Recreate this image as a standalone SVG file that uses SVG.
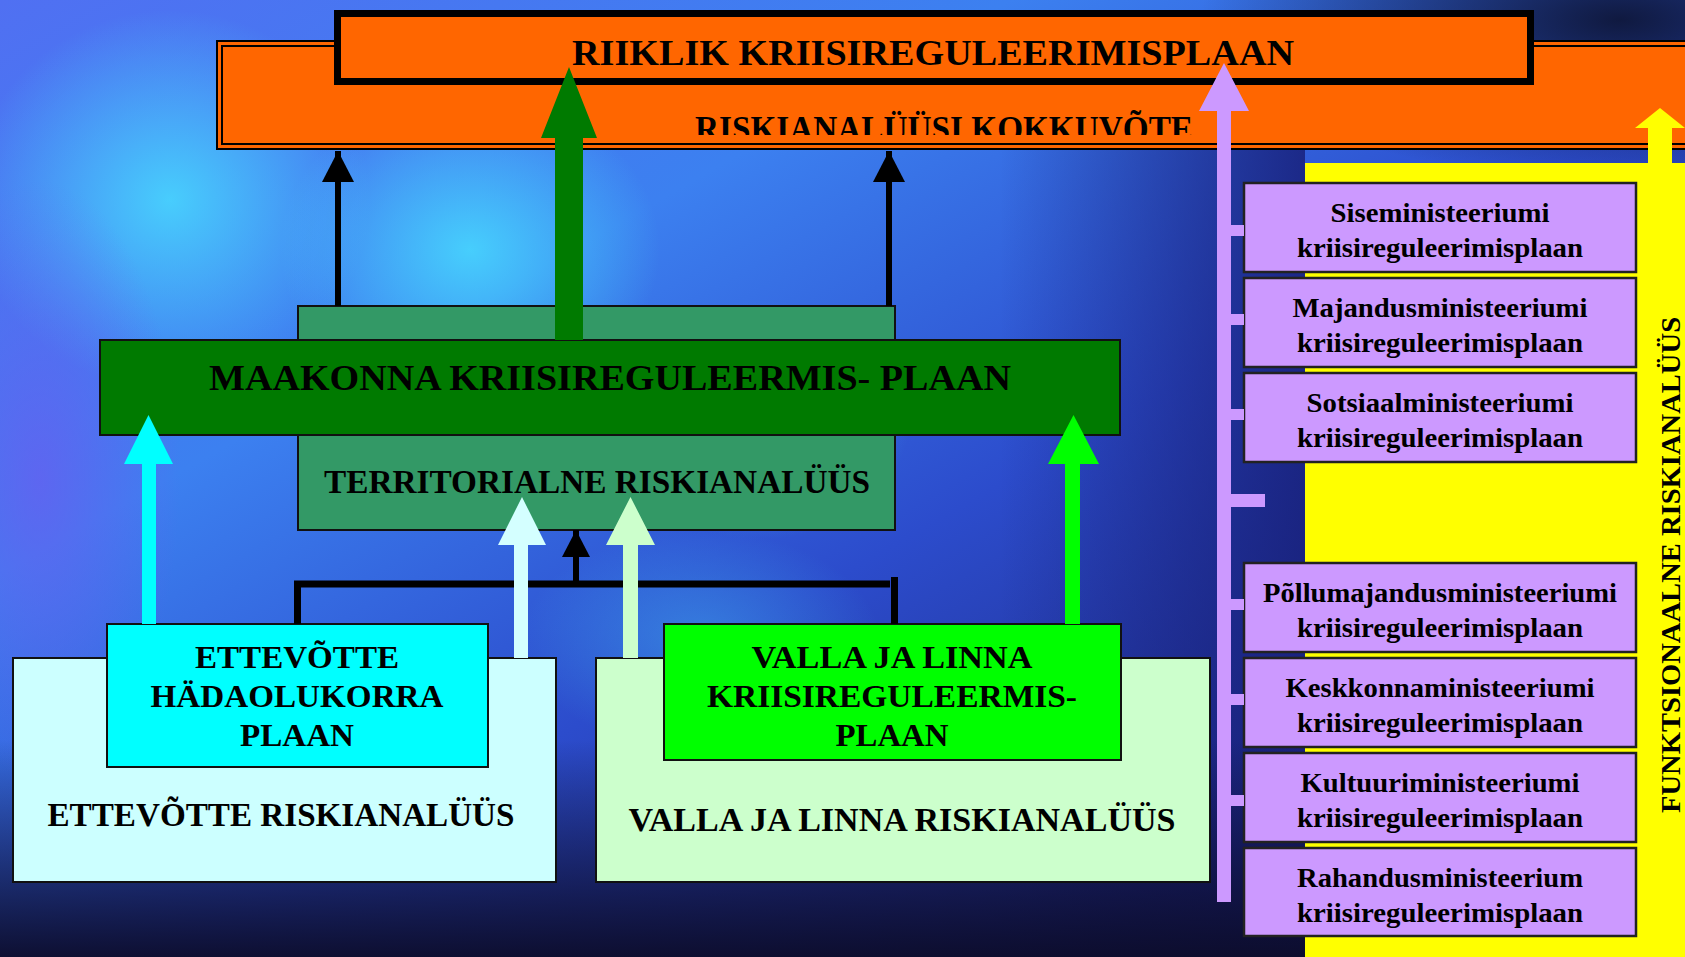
<svg xmlns="http://www.w3.org/2000/svg" width="1685" height="957" viewBox="0 0 1685 957">
<defs>
<linearGradient id="bg" x1="0" y1="0" x2="1" y2="1">
<stop offset="0" stop-color="#5070f2"/>
<stop offset="0.3" stop-color="#3c80f0"/>
<stop offset="0.55" stop-color="#2c4ccc"/>
<stop offset="0.8" stop-color="#1e2a88"/>
<stop offset="1" stop-color="#121440"/>
</linearGradient>
<radialGradient id="hl" cx="0.5" cy="0.5" r="0.5">
<stop offset="0" stop-color="#48dcff" stop-opacity="0.85"/>
<stop offset="1" stop-color="#48dcff" stop-opacity="0"/>
</radialGradient>
<radialGradient id="dk" cx="0.5" cy="0.5" r="0.5">
<stop offset="0" stop-color="#0e1638" stop-opacity="0.95"/>
<stop offset="1" stop-color="#0e1638" stop-opacity="0"/>
</radialGradient>
<radialGradient id="vi" cx="0.5" cy="0.5" r="0.5">
<stop offset="0" stop-color="#6a5cf0" stop-opacity="0.7"/>
<stop offset="1" stop-color="#6a5cf0" stop-opacity="0"/>
</radialGradient>
<linearGradient id="bot" x1="0" y1="0" x2="0" y2="1">
<stop offset="0" stop-color="#0c0c2a" stop-opacity="0"/>
<stop offset="1" stop-color="#0c0c2a" stop-opacity="0.95"/>
</linearGradient>
<linearGradient id="rs" x1="0" y1="0" x2="1" y2="0">
<stop offset="0" stop-color="#18207a" stop-opacity="0"/>
<stop offset="1" stop-color="#18207a" stop-opacity="0.85"/>
</linearGradient>
<clipPath id="clipK"><rect x="200" y="90" width="1100" height="45"/></clipPath>
<marker id="ah" markerUnits="userSpaceOnUse" markerWidth="32" markerHeight="32" refX="31" refY="16" orient="auto">
<path d="M0,0 L31,16 L0,32 Z" fill="#000"/>
</marker>
<marker id="ahs" markerUnits="userSpaceOnUse" markerWidth="28" markerHeight="28" refX="27" refY="14" orient="auto">
<path d="M0,0 L27,14 L0,28 Z" fill="#000"/>
</marker>
</defs>
<style>
text{font-family:"Liberation Serif","Times New Roman",serif;font-weight:bold;fill:#000;}
.box{stroke:#111;stroke-width:2;}
.big{font-size:36px;}
.mid{font-size:33px;}
.sm{font-size:32px;}
.min{font-size:27px;}
.minbox{fill:#cc99ff;stroke:#222;stroke-width:2.5;}
.stub{fill:#cc99ff;}
</style>

<!-- background -->
<rect x="0" y="0" width="1685" height="957" fill="url(#bg)"/>
<ellipse cx="170" cy="200" rx="200" ry="190" fill="url(#hl)"/>
<ellipse cx="470" cy="250" rx="190" ry="160" fill="url(#hl)"/>
<ellipse cx="760" cy="420" rx="150" ry="120" fill="url(#hl)" opacity="0.5"/>
<ellipse cx="700" cy="640" rx="180" ry="110" fill="url(#hl)" opacity="0.4"/>
<ellipse cx="40" cy="480" rx="140" ry="300" fill="url(#vi)"/>
<ellipse cx="1620" cy="20" rx="420" ry="160" fill="url(#dk)"/>
<rect x="1000" y="150" width="305" height="807" fill="url(#rs)"/>
<rect x="0" y="740" width="1685" height="217" fill="url(#bot)"/>

<!-- yellow panel -->
<g id="funktsionaalne">
<rect x="1305" y="163" width="380" height="794" fill="#ffff00"/>
<text transform="translate(1680,565) rotate(-90)" text-anchor="middle" font-size="28" textLength="496" lengthAdjust="spacingAndGlyphs">FUNKTSIONAALNE RISKIANALÜÜS</text>
</g>

<!-- orange boxes -->
<g id="kokkuvote">
<rect x="217" y="41" width="1480" height="108" fill="#ff6600" stroke="#000" stroke-width="2"/>
<rect x="222" y="46" width="1470" height="98" fill="none" stroke="#000" stroke-width="2"/>
<text class="big" x="944" y="141" text-anchor="middle" font-size="34" textLength="498" lengthAdjust="spacingAndGlyphs" clip-path="url(#clipK)">RISKIANALÜÜSI KOKKUVÕTE</text>
</g>
<g id="riiklik">
<rect x="337.5" y="13.5" width="1193" height="68" fill="#ff6600" stroke="#000" stroke-width="7"/>
<text class="big" x="933" y="65" text-anchor="middle" textLength="722" lengthAdjust="spacingAndGlyphs">RIIKLIK KRIISIREGULEERIMISPLAAN</text>
</g>

<!-- county -->
<g id="territorialne">
<rect class="box" x="298" y="306" width="597" height="224" fill="#339966"/>
<text class="mid" x="597" y="493" text-anchor="middle" textLength="546" lengthAdjust="spacingAndGlyphs">TERRITORIALNE RISKIANALÜÜS</text>
</g>
<g id="maakonna">
<rect class="box" x="100" y="340" width="1020" height="95" fill="#007a00"/>
<text class="big" x="610" y="390" text-anchor="middle" textLength="802" lengthAdjust="spacingAndGlyphs">MAAKONNA KRIISIREGULEERMIS- PLAAN</text>
</g>

<!-- bottom boxes -->
<g id="ettevotte-risk">
<rect class="box" x="13" y="658" width="543" height="224" fill="#ccffff"/>
<text class="mid" x="281" y="826" text-anchor="middle" textLength="467" lengthAdjust="spacingAndGlyphs">ETTEVÕTTE RISKIANALÜÜS</text>
</g>
<g id="ettevotte-plaan">
<rect class="box" x="107" y="624" width="381" height="143" fill="#00ffff"/>
<text class="sm" x="297" y="668" text-anchor="middle" textLength="204" lengthAdjust="spacingAndGlyphs">ETTEVÕTTE</text>
<text class="sm" x="297" y="707" text-anchor="middle" textLength="293" lengthAdjust="spacingAndGlyphs">HÄDAOLUKORRA</text>
<text class="sm" x="297" y="746" text-anchor="middle" textLength="114" lengthAdjust="spacingAndGlyphs">PLAAN</text>
</g>
<g id="valla-risk">
<rect class="box" x="596" y="658" width="614" height="224" fill="#ccffcc"/>
<text class="mid" x="902" y="831" text-anchor="middle" textLength="547" lengthAdjust="spacingAndGlyphs">VALLA JA LINNA RISKIANALÜÜS</text>
</g>
<g id="valla-plaan">
<rect class="box" x="664" y="624" width="457" height="136" fill="#00ff00"/>
<text class="sm" x="892" y="668" text-anchor="middle" textLength="281" lengthAdjust="spacingAndGlyphs">VALLA JA LINNA</text>
<text class="sm" x="892" y="707" text-anchor="middle" textLength="370" lengthAdjust="spacingAndGlyphs">KRIISIREGULEERMIS-</text>
<text class="sm" x="892" y="746" text-anchor="middle" textLength="113" lengthAdjust="spacingAndGlyphs">PLAAN</text>
</g>

<!-- ministries -->
<g id="min1"><rect class="minbox" x="1244" y="183" width="392" height="89"/>
<text class="min" x="1440" y="222" text-anchor="middle" textLength="219" lengthAdjust="spacingAndGlyphs">Siseministeeriumi</text>
<text class="min" x="1440" y="257" text-anchor="middle" textLength="286" lengthAdjust="spacingAndGlyphs">kriisireguleerimisplaan</text></g>
<g id="min2"><rect class="minbox" x="1244" y="278" width="392" height="89"/>
<text class="min" x="1440" y="317" text-anchor="middle" textLength="295" lengthAdjust="spacingAndGlyphs">Majandusministeeriumi</text>
<text class="min" x="1440" y="352" text-anchor="middle" textLength="286" lengthAdjust="spacingAndGlyphs">kriisireguleerimisplaan</text></g>
<g id="min3"><rect class="minbox" x="1244" y="373" width="392" height="89"/>
<text class="min" x="1440" y="412" text-anchor="middle" textLength="267" lengthAdjust="spacingAndGlyphs">Sotsiaalministeeriumi</text>
<text class="min" x="1440" y="447" text-anchor="middle" textLength="286" lengthAdjust="spacingAndGlyphs">kriisireguleerimisplaan</text></g>
<g id="min4"><rect class="minbox" x="1244" y="563" width="392" height="89"/>
<text class="min" x="1440" y="602" text-anchor="middle" textLength="354" lengthAdjust="spacingAndGlyphs">Põllumajandusministeeriumi</text>
<text class="min" x="1440" y="637" text-anchor="middle" textLength="286" lengthAdjust="spacingAndGlyphs">kriisireguleerimisplaan</text></g>
<g id="min5"><rect class="minbox" x="1244" y="658" width="392" height="89"/>
<text class="min" x="1440" y="697" text-anchor="middle" textLength="309" lengthAdjust="spacingAndGlyphs">Keskkonnaministeeriumi</text>
<text class="min" x="1440" y="732" text-anchor="middle" textLength="286" lengthAdjust="spacingAndGlyphs">kriisireguleerimisplaan</text></g>
<g id="min6"><rect class="minbox" x="1244" y="753" width="392" height="89"/>
<text class="min" x="1440" y="792" text-anchor="middle" textLength="279" lengthAdjust="spacingAndGlyphs">Kultuuriministeeriumi</text>
<text class="min" x="1440" y="827" text-anchor="middle" textLength="286" lengthAdjust="spacingAndGlyphs">kriisireguleerimisplaan</text></g>
<g id="min7"><rect class="minbox" x="1244" y="848" width="392" height="88"/>
<text class="min" x="1440" y="887" text-anchor="middle" textLength="286" lengthAdjust="spacingAndGlyphs">Rahandusministeerium</text>
<text class="min" x="1440" y="922" text-anchor="middle" textLength="286" lengthAdjust="spacingAndGlyphs">kriisireguleerimisplaan</text></g>

<!-- connectors -->
<g id="connectors">
<line x1="338" y1="306" x2="338" y2="151" stroke="#000" stroke-width="6" marker-end="url(#ah)"/>
<line x1="889" y1="306" x2="889" y2="151" stroke="#000" stroke-width="6" marker-end="url(#ah)"/>
<path d="M297.5,624 V584 H890" fill="none" stroke="#000" stroke-width="7"/>
<line x1="894.5" y1="577" x2="894.5" y2="624" stroke="#000" stroke-width="7"/>
<line x1="576" y1="584" x2="576" y2="530" stroke="#000" stroke-width="6" marker-end="url(#ahs)"/>
<polygon points="555,340 555,138 541,138 569,67 597,138 583,138 583,340" fill="#007a00"/>
<polygon points="142,624 142,464 124,464 148.5,415 173,464 156,464 156,624" fill="#00ffff"/>
<polygon points="514,658 514,545 498,545 522,497 546,545 528,545 528,658" fill="#d4ffff"/>
<polygon points="623,658 623,545 606,545 630.5,497 655,545 638,545 638,658" fill="#ccffcc"/>
<polygon points="1065,624 1065,464 1048,464 1073.5,415 1099,464 1080,464 1080,624" fill="#00ff00"/>
<polygon points="1217,902 1217,111 1199,111 1224,63 1249,111 1231,111 1231,902" fill="#cc99ff"/>
<polygon points="1648,163 1648,128 1635,128 1660,108 1685,128 1672,128 1672,163" fill="#ffff00"/>
<rect class="stub" x="1231" y="225" width="13" height="11"/>
<rect class="stub" x="1231" y="314" width="13" height="11"/>
<rect class="stub" x="1231" y="409" width="13" height="11"/>
<rect class="stub" x="1231" y="494" width="34" height="13"/>
<rect class="stub" x="1231" y="599" width="13" height="11"/>
<rect class="stub" x="1231" y="694" width="13" height="11"/>
<rect class="stub" x="1231" y="795" width="13" height="11"/>
</g>
</svg>
